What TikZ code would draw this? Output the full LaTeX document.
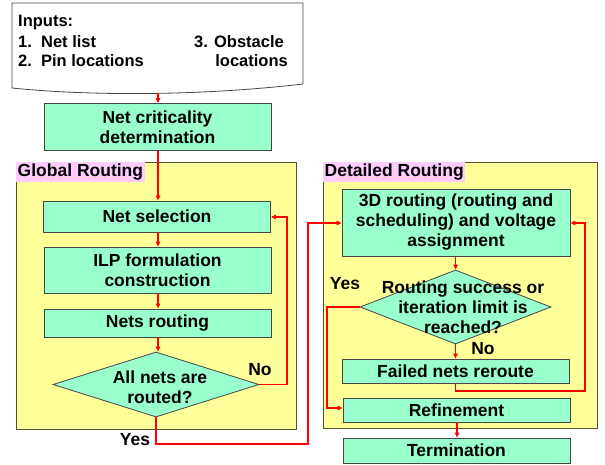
\documentclass[tikz,border=0pt]{standalone}
\usepackage{fontspec}
\setmainfont{Liberation Sans}
\usepackage{tikz}
\usetikzlibrary{shapes.geometric,arrows.meta}
\definecolor{mint}{RGB}{153,255,204}
\definecolor{paleyellow}{RGB}{255,255,153}
\definecolor{palepink}{RGB}{255,204,255}
\definecolor{edgegray}{RGB}{70,70,70}
\tikzset{
  proc/.style={draw=edgegray, fill=mint, line width=0.8pt, minimum width=227pt, inner sep=0pt, align=center, font=\bfseries\fontsize{17.5}{20}\selectfont},
  decide/.style={draw=edgegray, fill=mint, line width=0.8pt, diamond, inner sep=0pt},
  area/.style={draw=edgegray!80!olive, fill=paleyellow, line width=0.8pt},
  tag/.style={fill=palepink, inner sep=1.5pt, anchor=north west, font=\bfseries\fontsize{17.5}{20}\selectfont},
  txt/.style={inner sep=0pt, align=center, font=\bfseries\fontsize{17.5}{20}\selectfont},
  doctxt/.style={inner sep=0pt, font=\bfseries\fontsize{16.5}{20}\selectfont},
  flow/.style={draw=red, line width=1.4pt, -{Triangle[length=5pt,width=4.5pt]}},
}
\begin{document}
\begin{tikzpicture}[x=1pt,y=-1pt]
  \useasboundingbox (0,0) rectangle (605,465);
  % inputs document
  \draw[draw=edgegray, fill=white, line width=0.8pt] (12,3) -- (303,3) -- (303,84)
    .. controls (200,96) and (90,96) .. (12,88) -- cycle;
  \node[doctxt, anchor=west] (inp) at (18,22.5) {Inputs:};
  \node[doctxt, anchor=west] (in1) at (18,42) {1.\ \ Net list};
  \node[doctxt, anchor=west] (in2) at (18,61) {2.\ \ Pin locations};
  \node[doctxt, anchor=east] (in3) at (284,42) {3. Obstacle};
  \node[doctxt, anchor=east] (in4) at (288,61) {locations};
  \coordinate (docb) at (158,93);
  \node[proc, minimum height=47pt] (crit) at (157.5,127) {Net criticality\\determination};

  % global routing
  \draw[area] (16,162) rectangle (296,429);
  \node[tag] (glab) at (16,162) {Global Routing};
  \node[proc, minimum height=31pt] (sel) at (157,216.5) {Net selection};
  \node[proc, minimum height=46pt] (ilp) at (157.5,270) {ILP formulation\\construction};
  \node[proc, minimum height=28pt] (nrt) at (157.5,323) {Nets routing};
  \node[decide, minimum width=206pt, minimum height=65pt] (d1) at (156,384.5) {};
  \node[txt] (d1t) at (160,387) {All nets are\\routed?};
  \node[txt] (no1) at (260,370) {No};
  \node[txt] (yes1) at (135,440) {Yes};

  % detailed routing
  \draw[area] (323,162) rectangle (597,428);
  \node[tag] (dlab) at (323,162) {Detailed Routing};
  \node[proc, minimum width=228pt, minimum height=67pt] (rt3) at (456,222.5) {3D routing (routing and\\scheduling) and voltage\\assignment};
  \node[decide, minimum width=191pt, minimum height=74pt] (d2) at (455.5,307) {};
  \node[txt] (d2t) at (463,307) {Routing success or\\iteration limit is\\reached?};
  \node[txt] (yes2) at (345,284) {Yes};
  \node[txt] (no2) at (483,349) {No};
  \node[proc, minimum height=24pt] (fail) at (455.5,371) {Failed nets reroute};
  \node[proc, minimum height=24pt] (ref) at (456.5,410) {Refinement};
  \node[proc, minimum height=25pt] (term) at (456.5,450.5) {Termination};

  % connectors
  \draw[flow] (docb) -- (docb |- crit.north);
  \draw[flow] (crit.south -| 158,0) -- (sel.north -| 158,0);
  \draw[flow] (sel.south -| 158,0) -- (ilp.north -| 158,0);
  \draw[flow] (ilp.south -| 158,0) -- (nrt.north -| 158,0);
  \draw[flow] (nrt.south -| 158,0) -- (d1.north -| 158,0);
  \draw[flow] (d1.east) -| (287,217) -- (sel.east |- 0,217);
  \draw[flow] (d1.south) -- (156,444) -| (308,223) -- (rt3.west |- 0,223);
  \draw[flow] (rt3.south -| d2.north) -- (d2.north);
  \draw[flow] (d2.west) -| (327,408) -- (ref.west |- 0,408);
  \draw[flow] (d2.south) -- (fail.north -| d2.south);
  \draw[flow] (fail.south -| d2.south) -- (455.5,391) -| (585,223) -- (rt3.east |- 0,223);
  \draw[flow] (ref.south -| 457,0) -- (term.north -| 457,0);
\end{tikzpicture}
\end{document}
